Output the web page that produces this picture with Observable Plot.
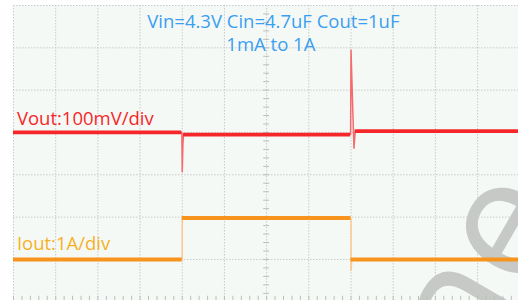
<!DOCTYPE html>
<html>
<head>
<meta charset="utf-8">
<script src="https://cdn.jsdelivr.net/npm/d3@7"></script>
<script src="https://cdn.jsdelivr.net/npm/@observablehq/plot@0.6"></script>
<style>
  html, body { margin: 0; padding: 0; background: #ffffff; }
  #chart svg { display: block; }
</style>
</head>
<body>
<div id="chart"></div>
<script>
// ---- data (time in divisions, Vout offset in mV, Iout in A) ----
const titleLines = ["Vin=4.3V Cin=4.7uF Cout=1uF", "1mA to 1A"];
const voutLabel = "Vout:100mV/div";
const ioutLabel = "Iout:1A/div";
const watermark = "ne";

// Vout full trace (thin), including the transient spikes
const voutT  = [-6, -2.01, -2.0, -1.985, -1.97, 1.99, 2.0, 2.04, 2.07, 2.1, 5.97];
const voutMv = [0,   0,    -93,  -30,    -5,   -5,   195,  60,  -37,  3,   3];
// Vout settled levels (thick): start, end, mV
const voutSegStart = [-6, -1.97, 2.1];
const voutSegEnd   = [-2.01, 1.99, 5.97];
const voutSegMv    = [0, -5, 3];

// Iout full trace (thin edges)
const ioutT = [-6, -2.0, -2.0, 2.0, 2.0, 2.02, 5.97];
const ioutA = [0,   0,   0.98, 0.98, -0.26, 0, 0];
// Iout settled levels (thick)
const ioutSegStart = [-6, -2.0, 2.0];
const ioutSegEnd   = [-2.0, 2.0, 5.97];
const ioutSegA     = [0, 0.98, 0];

// channel reference positions (in divisions) and scale
const voutRef = 4, voutPerDiv = 100;  // mV/div
const ioutRef = 1, ioutPerDiv = 1;    // A/div

const divsX = d3.range(-6, 6);
const divsY = d3.range(1, 8);
const minorX = d3.range(-6, 6, 0.2);
const minorY = d3.range(0, 7, 0.2);

// ---- build ----
const vout = voutT.map((t, i) => ({t, v: voutRef + voutMv[i] / voutPerDiv}));
const voutSeg = voutSegStart.map((s, i) => ({x1: s, x2: voutSegEnd[i], y: voutRef + voutSegMv[i] / voutPerDiv}));
const iout = ioutT.map((t, i) => ({t, v: ioutRef + ioutA[i] / ioutPerDiv}));
const ioutSeg = ioutSegStart.map((s, i) => ({x1: s, x2: ioutSegEnd[i], y: ioutRef + ioutSegA[i] / ioutPerDiv}));

const red = "#f5272a", orange = "#f7941d", blue = "#3a9ff0", grid = "#c9cbc9";

const chart = Plot.plot({
  width: 518,
  height: 300,
  marginLeft: 13,
  marginTop: 5,
  marginRight: 0,
  marginBottom: 0,
  x: {domain: [-6, 5.97], axis: null},
  y: {domain: [0.03, 7], axis: null},
  style: {fontFamily: "'Open Sans', sans-serif", background: "#ffffff"},
  marks: [
    Plot.frame({fill: "#f5f9f6", stroke: null}),
    Plot.text([watermark], {x: 5.0, y: 0.7, text: d => d, rotate: -60, fontSize: 170, fill: "#c6c9c6", textAnchor: "middle", lineAnchor: "middle"}),
    Plot.ruleX(divsX, {stroke: grid, strokeDasharray: "1.5,1.5", strokeWidth: 1}),
    Plot.ruleY(divsY, {stroke: grid, strokeDasharray: "1.5,1.5", strokeWidth: 1}),
    Plot.ruleY(minorY, {x1: -0.07, x2: 0.07, stroke: "#bcbebc", strokeWidth: 1}),
    Plot.ruleX(minorX, {y1: 0.03, y2: 0.13, stroke: "#bcbebc", strokeWidth: 1}),
    // Iout
    Plot.line(iout, {x: "t", y: "v", stroke: "#fbc893", strokeWidth: 1.5}),
    Plot.ruleY(ioutSeg, {x1: "x1", x2: "x2", y: "y", stroke: orange, strokeWidth: 4}),
    // Vout
    Plot.line(vout, {x: "t", y: "v", stroke: "#f66a6c", strokeWidth: 1.5}),
    Plot.ruleY(voutSeg, {x1: "x1", x2: "x2", y: "y", stroke: red, strokeWidth: 3.8}),
    // labels
    Plot.text([titleLines[0]], {x: 0.16, y: 6.47, text: d => d, fill: blue, fontSize: 18.5, lineAnchor: "bottom", textAnchor: "middle"}),
    Plot.text([titleLines[1]], {x: 0.1, y: 5.92, text: d => d, fill: blue, fontSize: 18.5, lineAnchor: "bottom", textAnchor: "middle"}),
    Plot.text([voutLabel], {x: -5.92, y: 4.17, text: d => d, fill: red, fontSize: 18.5, lineAnchor: "bottom", textAnchor: "start"}),
    Plot.text([ioutLabel], {x: -5.92, y: 1.23, text: d => d, fill: "#f5b126", fontSize: 18.5, lineAnchor: "bottom", textAnchor: "start"})
  ]
});
document.getElementById("chart").append(chart);
</script>
</body>
</html>
